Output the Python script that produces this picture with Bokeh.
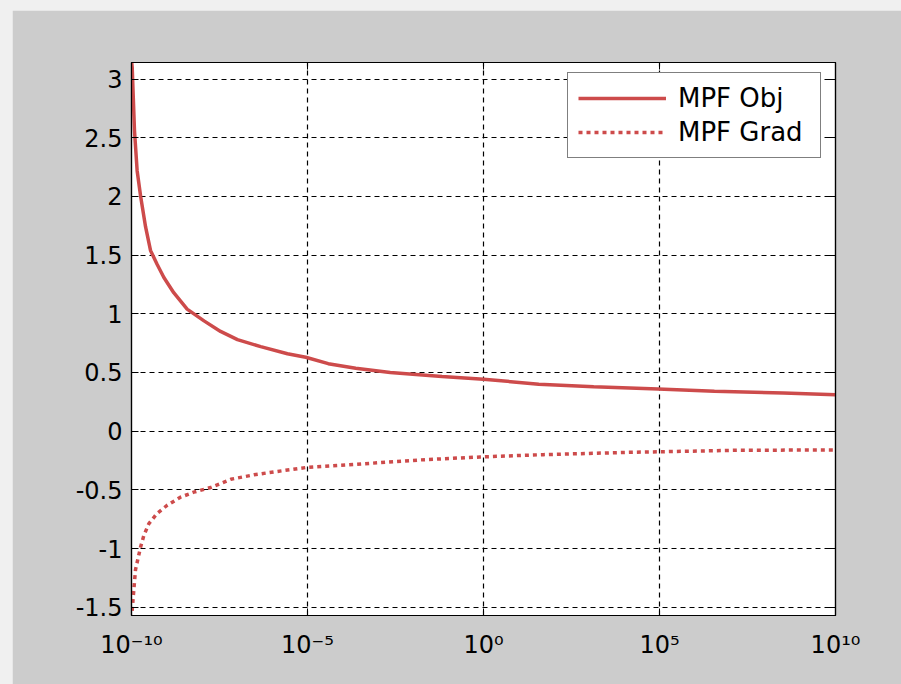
from bokeh.plotting import figure
from bokeh.models import (Range1d, FixedTicker, LogAxis, LinearAxis, Legend, LegendItem,
                          CustomLabelingPolicy, Spacer, Row, Column)
from bokeh.embed import file_html
from bokeh.resources import INLINE

# ---- data ----
obj_log10x = [-10.0, -9.98, -9.95, -9.915, -9.84, -9.74, -9.60, -9.46, -9.27, -9.08,
              -8.80, -8.42, -7.94, -7.47, -6.99, -6.33, -5.57, -5.05, -4.41, -3.63,
              -2.65, -1.18, 0.0, 1.57, 3.13, 4.96, 6.56, 8.52, 10.0]
obj_y = [3.16, 3.10, 2.85, 2.56, 2.22, 2.00, 1.74, 1.54, 1.42, 1.31,
         1.18, 1.04, 0.94, 0.85, 0.78, 0.72, 0.66, 0.63, 0.575, 0.537,
         0.50, 0.466, 0.443, 0.40, 0.378, 0.36, 0.34, 0.326, 0.31]

grad_log10x = [-10.0, -9.95, -9.886, -9.744, -9.65, -9.51, -9.27, -8.98, -8.61, -8.23,
               -7.75, -7.18, -6.52, -5.85, -5.05, -3.9, -1.8, -0.1, 1.7, 4.2, 7.2, 10.0]
grad_y = [-1.60, -1.41, -1.18, -0.99, -0.89, -0.79, -0.70, -0.63, -0.563, -0.52,
          -0.48, -0.41, -0.372, -0.343, -0.31, -0.288, -0.245, -0.22, -0.20, -0.18, -0.163, -0.16]

series_names = ["MPF Obj", "MPF Grad"]

x_ticks = [1e-10, 1e-5, 1.0, 1e5, 1e10]
x_tick_labels = ["10\u207b\u00b9\u2070", "10\u207b\u2075", "10\u2070", "10\u2075", "10\u00b9\u2070"]
y_ticks = [-1.5, -1.0, -0.5, 0.0, 0.5, 1.0, 1.5, 2.0, 2.5, 3.0]
y_tick_labels = ["-1.5", "-1", "-0.5", "0", "0.5", "1", "1.5", "2", "2.5", "3"]

x_limits = (1e-10, 1e10)
y_limits = (-1.5708, 3.1416)

# ---- figure ----
FONT = "DejaVu Sans"
RED = "#cd4b4b"

p = figure(width=889, height=674, x_axis_type="log",
           x_range=Range1d(*x_limits), y_range=Range1d(*y_limits),
           output_backend="svg", toolbar_location=None,
           min_border_left=119, min_border_right=66,
           min_border_top=52, min_border_bottom=69)
p.border_fill_color = "#cccccc"
p.background_fill_color = "white"
p.outline_line_color = "black"
p.outline_line_width = 1.2

bottom_axis = p.below[0]
left_axis = p.left[0]

obj_x = [10 ** v for v in obj_log10x]
grad_x = [10 ** v for v in grad_log10x]

r1 = p.line(obj_x, obj_y, line_color=RED, line_width=3.5)
r2 = p.line(grad_x, grad_y, line_color=RED, line_width=3.5, line_dash="4 4")

# axes
xt = FixedTicker(ticks=x_ticks)
yt = FixedTicker(ticks=y_ticks)
no_labels = CustomLabelingPolicy(code="""
for (const i of Array.from(indices)) { indices.unset(i) }
return indices
""")

bottom_axis.ticker = xt
bottom_axis.major_label_overrides = dict(zip(x_ticks, x_tick_labels))
left_axis.ticker = yt
left_axis.major_label_overrides = dict(zip(y_ticks, y_tick_labels))

top_axis = LogAxis(ticker=xt, major_label_policy=no_labels)
right_axis = LinearAxis(ticker=yt, major_label_policy=no_labels)
p.add_layout(top_axis, "above")
p.add_layout(right_axis, "right")

for ax in [bottom_axis, left_axis, top_axis, right_axis]:
    ax.axis_line_color = "black"
    ax.axis_line_width = 1.2
    ax.major_tick_line_color = "black"
    ax.major_tick_in = 7
    ax.major_tick_out = 0
    ax.minor_tick_line_color = None
    ax.major_label_text_font = FONT
    ax.major_label_text_color = "black"
    ax.major_label_text_font_size = "24px"
    ax.major_label_standoff = 0
left_axis.major_label_standoff = 9
bottom_axis.major_label_standoff = 15

for g in [p.xgrid[0], p.ygrid[0]]:
    g.grid_line_color = "black"
    g.grid_line_dash = "5 4"
    g.grid_line_width = 1.2
    g.grid_line_alpha = 1.0
p.xgrid[0].ticker = xt
p.ygrid[0].ticker = yt

legend = Legend(items=[LegendItem(label=series_names[0], renderers=[r1]),
                       LegendItem(label=series_names[1], renderers=[r2])])
legend.margin = 0
legend.location = (436, 457)
legend.padding = 10
legend.spacing = 4
legend.glyph_width = 88
legend.glyph_height = 28
legend.label_height = 28
legend.label_standoff = 12
legend.label_width = 132
legend.label_text_font = FONT
legend.label_text_font_size = "26px"
legend.label_text_color = "black"
legend.border_line_color = "black"
legend.border_line_width = 1.2
legend.background_fill_color = "white"
legend.background_fill_alpha = 1.0
p.add_layout(legend)

page = Column(children=[Spacer(width=901, height=10),
                        Row(children=[Spacer(width=12, height=674), p], spacing=0)],
              spacing=0, styles={"background-color": "#f0f0f0"})

open("out.html", "w").write(file_html(page, INLINE))
